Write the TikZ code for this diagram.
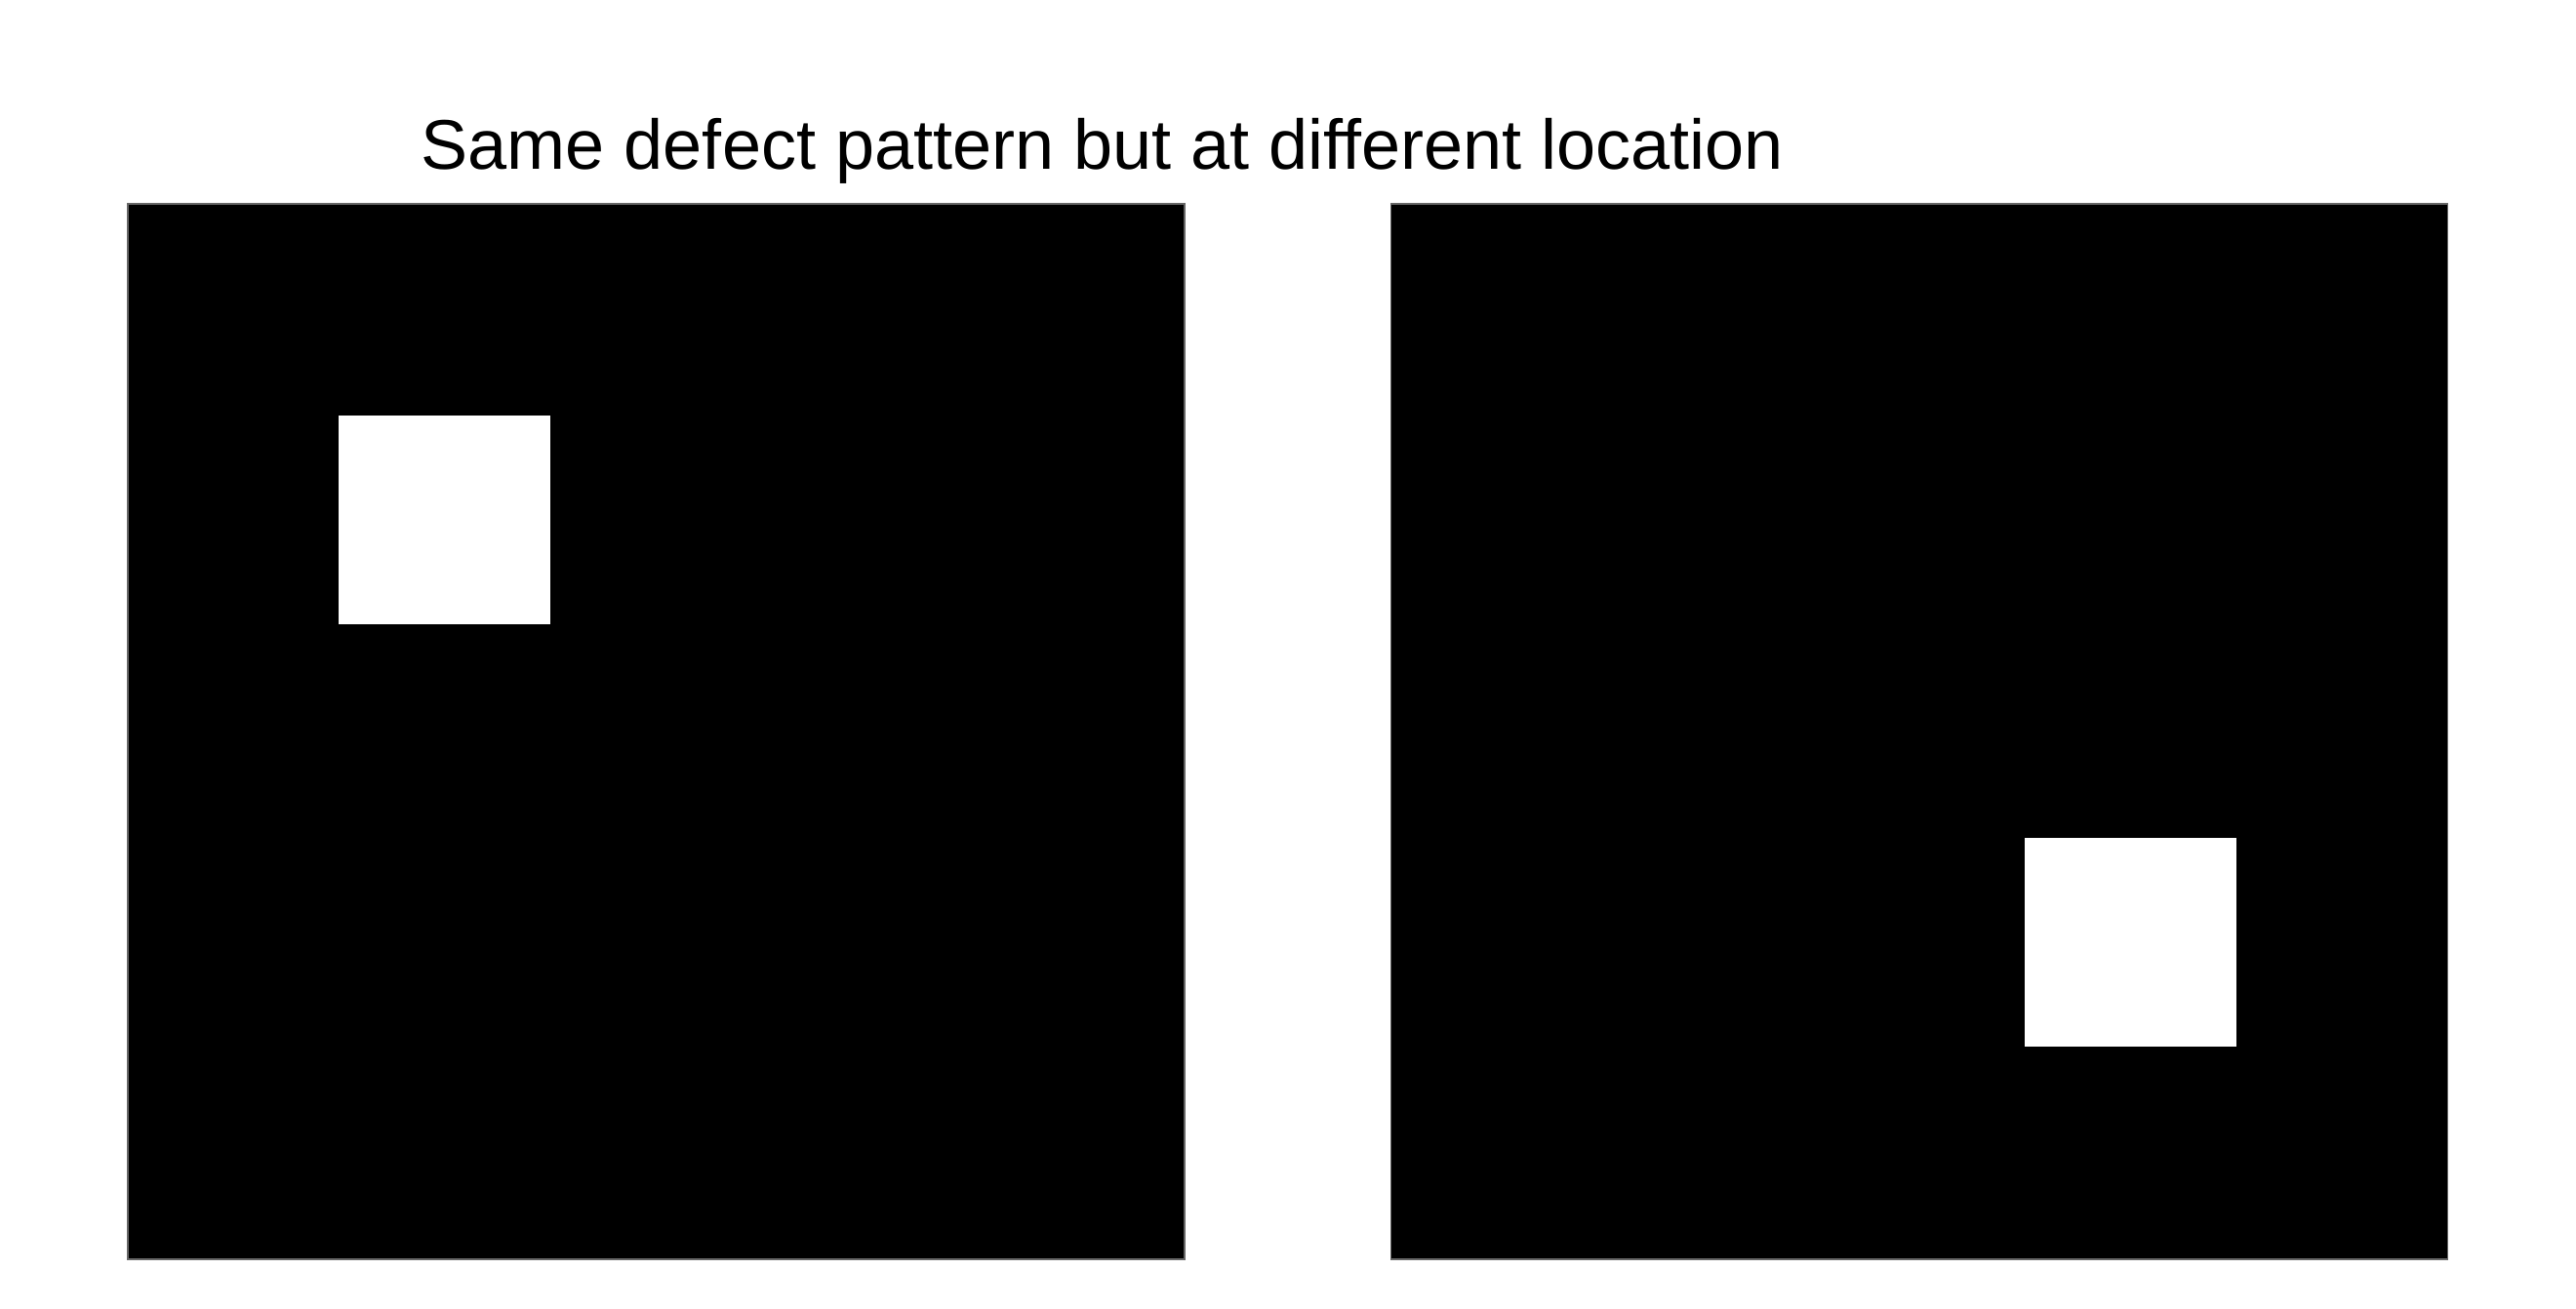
\documentclass[tikz,border=0pt]{standalone}
\usepackage{fontspec}
\setmainfont{Liberation Sans}

\begin{document}
\begin{tikzpicture}[
    panel/.style={
        rectangle,
        draw=black!60,
        line width=0.4pt,
        fill=black,
        inner sep=0pt,
        minimum width=10.83cm,
        minimum height=10.82cm
    },
    defect/.style={
        rectangle,
        fill=white,
        inner sep=0pt,
        minimum width=2.17cm,
        minimum height=2.14cm
    },
    caption/.style={
        anchor=base west,
        inner sep=0pt,
        font=\fontsize{20.5}{24}\selectfont
    }
]

\useasboundingbox (0,0) rectangle (26.40,-13.41);

% Title
\node[caption] (title) at (4.31,-1.73) {Same defect pattern but at different location};

% Panels
\node[panel] (left) at (6.725,-7.50) {};
\node[panel] (right) at (19.67,-7.50) {};

% Defects
\node[defect] (dleft) at (4.555,-5.33) {};
\node[defect] (dright) at (21.83,-9.655) {};

\end{tikzpicture}
\end{document}
